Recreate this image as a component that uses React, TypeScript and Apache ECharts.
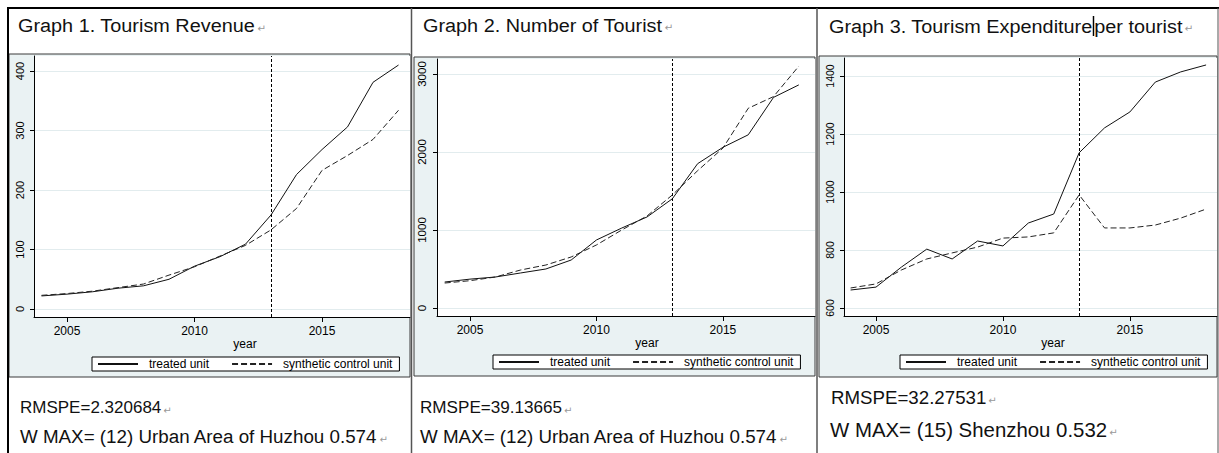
import React, { useEffect, useRef } from "react";
import * as echarts from "echarts";

// ---- data -------------------------------------------------------------
const years = [2004, 2005, 2006, 2007, 2008, 2009, 2010, 2011, 2012, 2013, 2014, 2015, 2016, 2017, 2018];
const treatmentYear = 2013;
const yearTicks = [2005, 2010, 2015];
const legendNames = ["treated unit", "synthetic control unit"];

const revenueTreated = [22, 25, 29, 35, 39, 50, 72, 88, 109, 158, 226, 268, 306, 381, 410];
const revenueSynthetic = [23, 26, 30, 36, 42, 57, 71, 89, 107, 133, 169, 233, 258, 285, 334];
const revenueTicks = [0, 100, 200, 300, 400];

const touristTreated = [333, 370, 397, 449, 500, 615, 872, 1025, 1167, 1400, 1850, 2060, 2220, 2700, 2860];
const touristSynthetic = [320, 350, 397, 487, 551, 654, 808, 1000, 1180, 1449, 1760, 2050, 2560, 2710, 3100];
const touristTicks = [0, 1000, 2000, 3000];

const expenditureTreated = [662, 672, 741, 803, 769, 831, 814, 893, 924, 1135, 1221, 1276, 1379, 1414, 1438];
const expenditureSynthetic = [669, 683, 731, 769, 790, 810, 841, 845, 859, 990, 876, 876, 886, 910, 941];
const expenditureTicks = [600, 800, 1000, 1200, 1400];

const rmspeTexts = ["RMSPE=2.320684", "RMSPE=39.13665", "RMSPE=32.27531"];
const wMaxTexts = [
  "W MAX= (12) Urban Area of Huzhou 0.574",
  "W MAX= (12) Urban Area of Huzhou 0.574",
  "W MAX= (15) Shenzhou 0.532",
];

// ---- layout / styling ---------------------------------------------------
const FONT = 'Arial, "Liberation Sans", sans-serif';
const GRAPH_BG = "#EAF2F3";
const GRID_LINE = "#E2ECEE";

const panels = [
  {
    treated: revenueTreated,
    synthetic: revenueSynthetic,
    ticks: revenueTicks,
    title: "{t|Graph 1. Tourism Revenue}{m|↵}",
    grid: { left: 34, top: 56, width: 376, height: 261 },
    xRange: [2003.706, 2018.45],
    yRange: [-13.4, 425.2],
    frame: { x: 9, y: 54, width: 401, height: 323 },
    legend: { left: 92, top: 357 },
    yearLabel: { x: 245, y: 344 },
    yLabelSize: 11,
    titlePos: { x: 18, y: 25.5 },
    rmspePos: { x: 20, y: 407, size: 17 },
    wMaxPos: { x: 20, y: 436, size: 18.8 },
  },
  {
    treated: touristTreated,
    synthetic: touristSynthetic,
    ticks: touristTicks,
    title: "{t|Graph 2. Number of Tourist}{m|↵}",
    grid: { left: 437, top: 59, width: 378, height: 257 },
    xRange: [2003.696, 2018.64],
    yRange: [-102.6, 3192],
    frame: { x: 414, y: 57, width: 401, height: 319 },
    legend: { left: 493, top: 355 },
    yearLabel: { x: 647, y: 343 },
    yLabelSize: 11.5,
    titlePos: { x: 423, y: 25 },
    rmspePos: { x: 420, y: 407, size: 17.1 },
    wMaxPos: { x: 420, y: 436, size: 18.8 },
  },
  {
    treated: expenditureTreated,
    synthetic: expenditureSynthetic,
    ticks: expenditureTicks,
    title: "{t|Graph 3. Tourism Expenditure}{c| }{t|per tourist}{m|↵}",
    grid: { left: 844, top: 58, width: 373, height: 258 },
    xRange: [2003.74, 2018.43],
    yRange: [572.4, 1462],
    frame: { x: 819, y: 56, width: 398, height: 321 },
    legend: { left: 900, top: 355 },
    yearLabel: { x: 1053, y: 343 },
    yLabelSize: 10.5,
    titlePos: { x: 829, y: 26 },
    rmspePos: { x: 831, y: 397.5, size: 18.7 },
    wMaxPos: { x: 830, y: 429.5, size: 20.4 },
  },
];

const pairs = (values: number[]) => years.map((yr, i) => [yr, values[i]]);
const plain = (v: number) => String(v);

function buildOption() {
  const grid = panels.map((p) => ({ ...p.grid, containLabel: false, show: false }));

  const xAxis = panels.map((p, i) => ({
    type: "value",
    gridIndex: i,
    min: p.xRange[0],
    max: p.xRange[1],
    axisLine: { show: true, onZero: false, lineStyle: { color: "#000", width: 1 } },
    axisTick: { show: true, length: 5, customValues: yearTicks, lineStyle: { color: "#000", width: 1 } },
    axisLabel: {
      customValues: yearTicks,
      formatter: plain,
      fontSize: 12,
      color: "#000",
      margin: 8,
      fontFamily: FONT,
    },
    splitLine: { show: false },
  }));

  const yAxis = panels.map((p, i) => ({
    type: "value",
    gridIndex: i,
    min: p.yRange[0],
    max: p.yRange[1],
    axisLine: { show: true, onZero: false, lineStyle: { color: "#000", width: 1 } },
    axisTick: { show: true, length: 4, customValues: p.ticks, lineStyle: { color: "#000", width: 1 } },
    axisLabel: {
      customValues: p.ticks,
      formatter: plain,
      rotate: 90,
      fontSize: p.yLabelSize,
      color: "#000",
      margin: 9,
      fontFamily: FONT,
    },
    splitLine: { show: true, lineStyle: { color: GRID_LINE, width: 1 } },
  }));

  const series: any[] = [];
  panels.forEach((p, i) => {
    series.push({
      type: "line",
      name: legendNames[0],
      xAxisIndex: i,
      yAxisIndex: i,
      data: pairs(p.treated),
      symbol: "none",
      z: 4,
      lineStyle: { color: "#111", width: 1 },
      itemStyle: { color: "#111" },
      markLine: {
        silent: true,
        symbol: ["none", "none"],
        label: { show: false },
        lineStyle: { color: "#000", type: [3, 2], width: 1 },
        data: [{ xAxis: treatmentYear }],
      },
    });
    series.push({
      type: "line",
      name: legendNames[1],
      xAxisIndex: i,
      yAxisIndex: i,
      data: pairs(p.synthetic),
      symbol: "none",
      z: 4,
      lineStyle: { color: "#222", width: 1, type: [6, 3] },
      itemStyle: { color: "#222" },
    });
  });

  const legend = panels.map((p) => ({
    data: legendNames,
    left: p.legend.left,
    top: p.legend.top,
    orient: "horizontal",
    padding: [1, 7, 1, 5],
    itemWidth: 40,
    itemHeight: 12,
    itemGap: 22,
    backgroundColor: "#fff",
    borderColor: "#000",
    borderWidth: 1,
    borderRadius: 0,
    selectedMode: false,
    itemStyle: { opacity: 0 },
    textStyle: { fontSize: 12, color: "#000", fontFamily: FONT, padding: [0, 0, 0, 6] },
  }));

  const markRich = { fontSize: 10, fontFamily: "DejaVu Sans", fill: "#999", padding: [6, 0, 0, 2] };

  const elements: any[] = [];
  panels.forEach((p) => {
    // graph region (light bluish gray) and white plot region
    elements.push({
      type: "rect",
      z: -5,
      shape: { ...p.frame },
      style: { fill: GRAPH_BG, stroke: "#3a3a3a", lineWidth: 1 },
    });
    elements.push({
      type: "rect",
      z: -4,
      shape: { x: p.grid.left, y: p.grid.top, width: p.grid.width, height: p.grid.height },
      style: { fill: "#fff" },
    });
    elements.push({
      type: "text",
      z: 20,
      x: p.yearLabel.x,
      y: p.yearLabel.y,
      style: { text: "year", fill: "#000", font: `12px ${FONT}`, align: "center", verticalAlign: "middle" },
    });
    elements.push({
      type: "text",
      z: 20,
      x: p.titlePos.x,
      y: p.titlePos.y,
      scaleX: 1.045,
      style: {
        text: p.title,
        align: "left",
        verticalAlign: "middle",
        rich: {
          t: { fontSize: 19, fontFamily: FONT, fill: "#111" },
          m: markRich,
          c: { width: 1.4, height: 20, backgroundColor: "#000" },
        },
      },
    });
  });
  panels.forEach((p, i) => {
    elements.push({
      type: "text",
      z: 20,
      x: p.rmspePos.x,
      y: p.rmspePos.y,
      style: {
        text: `{t|${rmspeTexts[i]}}{m|↵}`,
        verticalAlign: "middle",
        rich: { t: { fontSize: p.rmspePos.size, fontFamily: FONT, fill: "#111" }, m: markRich },
      },
    });
    elements.push({
      type: "text",
      z: 20,
      x: p.wMaxPos.x,
      y: p.wMaxPos.y,
      style: {
        text: `{t|${wMaxTexts[i]}}{m|↵}`,
        verticalAlign: "middle",
        rich: { t: { fontSize: p.wMaxPos.size, fontFamily: FONT, fill: "#111" }, m: markRich },
      },
    });
  });

  // table rules
  const rule = (x1: number, y1: number, x2: number, y2: number, w: number, c: string) => ({
    type: "line",
    z: 30,
    shape: { x1, y1, x2, y2 },
    style: { stroke: c, lineWidth: w },
  });
  elements.push(rule(7, 8, 1219, 8, 2, "#000"));
  elements.push(rule(8, 7, 8, 453, 2, "#000"));
  elements.push(rule(411.5, 8, 411.5, 453, 1.5, "#555"));
  elements.push(rule(817, 8, 817, 453, 1.5, "#555"));
  elements.push(rule(1218, 8, 1218, 453, 1, "#555"));

  return {
    animation: false,
    backgroundColor: "#fff",
    grid,
    xAxis,
    yAxis,
    series,
    legend,
    graphic: { elements },
  };
}

export default function App() {
  const ref = useRef<HTMLDivElement>(null);
  useEffect(() => {
    if (!ref.current) return;
    const chart = echarts.init(ref.current, undefined, { renderer: "svg" });
    chart.setOption(buildOption() as any);
    return () => chart.dispose();
  }, []);
  return (
    <div
      ref={ref}
      style={{ position: "absolute", left: 0, top: 0, width: 1219, height: 453, background: "#fff" }}
    />
  );
}
